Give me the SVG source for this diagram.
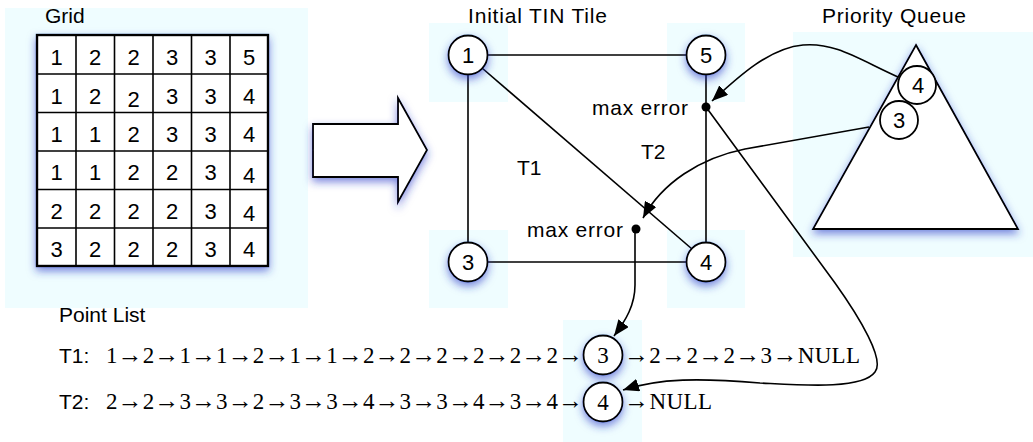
<svg xmlns="http://www.w3.org/2000/svg" width="1033" height="442" viewBox="0 0 1033 442">
<defs>
<style>
.bg{fill:#effdff;stroke:none}
.sans{font-family:"Liberation Sans",Arial,sans-serif;font-size:21px;fill:#000}
.num{font-size:22px}
.serif{font-family:"Liberation Serif","Times New Roman",serif;font-size:23px;fill:#000}
.a{font-size:25px}
.node{fill:#fff;stroke:#000;stroke-width:1.8}
.edge{fill:none;stroke:#000;stroke-width:1.6}
.conn{fill:none;stroke:#000;stroke-width:1.6}
.mid{text-anchor:middle}
</style>
<filter id="sh" x="-30%" y="-30%" width="160%" height="170%">
<feDropShadow dx="0" dy="4" stdDeviation="4" flood-color="#2838c8" flood-opacity="0.6"/>
</filter>
<marker id="ah" markerUnits="userSpaceOnUse" markerWidth="17" markerHeight="13" refX="16" refY="6.5" orient="auto">
<path d="M0,0 L16,6.5 L0,13 z" fill="#000"/>
</marker>
</defs>
<rect width="1033" height="442" fill="#fff"/>
<g id="panels">
<rect class="bg" x="5" y="8" width="303" height="300"/>
<rect class="bg" x="429" y="23" width="79" height="79"/>
<rect class="bg" x="667" y="23" width="78" height="79"/>
<rect class="bg" x="429" y="230" width="79" height="78"/>
<rect class="bg" x="667" y="230" width="78" height="78"/>
<rect class="bg" x="793" y="32" width="240" height="225"/>
<rect class="bg" x="563" y="320" width="79" height="122"/>
</g>
<g id="grid">
<text class="sans" x="45" y="23">Grid</text>
<rect x="37" y="35" width="231" height="231" fill="#fff" stroke="#000" stroke-width="2.4" filter="url(#sh)"/>
<g stroke="#000" stroke-width="1.6">
<line x1="76" y1="35" x2="76" y2="266"/>
<line x1="114.5" y1="35" x2="114.5" y2="266"/>
<line x1="153" y1="35" x2="153" y2="266"/>
<line x1="191.5" y1="35" x2="191.5" y2="266"/>
<line x1="230" y1="35" x2="230" y2="266"/>
<line x1="37" y1="74" x2="268" y2="74"/>
<line x1="37" y1="112.5" x2="268" y2="112.5"/>
<line x1="37" y1="151" x2="268" y2="151"/>
<line x1="37" y1="189.5" x2="268" y2="189.5"/>
<line x1="37" y1="228" x2="268" y2="228"/>
</g>
<g class="sans num mid">
<text x="56.5" y="65">1</text><text x="95" y="65">2</text><text x="133.5" y="65">2</text><text x="172" y="65">3</text><text x="210.5" y="65">3</text><text x="249" y="65">5</text>
<text x="56.5" y="103.5">1</text><text x="95" y="103.5">2</text><text x="133.5" y="106.5">2</text><text x="172" y="103.5">3</text><text x="210.5" y="103.5">3</text><text x="249" y="103.5">4</text>
<text x="56.5" y="142">1</text><text x="95" y="142">1</text><text x="133.5" y="142">2</text><text x="172" y="142">3</text><text x="210.5" y="142">3</text><text x="249" y="142">4</text>
<text x="56.5" y="180">1</text><text x="95" y="180">1</text><text x="133.5" y="180">2</text><text x="172" y="180">2</text><text x="210.5" y="180">3</text><text x="249" y="183">4</text>
<text x="56.5" y="219">2</text><text x="95" y="219">2</text><text x="133.5" y="219">2</text><text x="172" y="219">2</text><text x="210.5" y="219">3</text><text x="249" y="221">4</text>
<text x="56.5" y="257">3</text><text x="95" y="257">2</text><text x="133.5" y="257">2</text><text x="172" y="257">2</text><text x="210.5" y="257">3</text><text x="249" y="257">4</text>
</g>
</g>
<g id="block-arrow">
<path d="M313,124 L398,124 L398,98 L427,150 L398,202 L398,177 L313,177 Z" fill="#fff" stroke="#000" stroke-width="1.8" filter="url(#sh)"/>
</g>
<g id="tin-tile">
<text class="sans" x="468" y="23" textLength="139">Initial TIN Tile</text>
<g class="edge">
<line x1="487" y1="55" x2="687" y2="55"/>
<line x1="468" y1="74" x2="468" y2="243"/>
<line x1="706" y1="74" x2="706" y2="243"/>
<line x1="487" y1="262" x2="687" y2="262"/>
<line x1="482" y1="68" x2="692" y2="249"/>
</g>
<text class="sans" x="517" y="175">T1</text>
<text class="sans" x="641" y="159">T2</text>
<circle cx="706" cy="107" r="4.5" fill="#000"/>
<text class="sans" x="592" y="115" textLength="96">max error</text>
<circle cx="636" cy="229" r="4.5" fill="#000"/>
<text class="sans" x="527" y="237" textLength="96">max error</text>
</g>
<g id="tin-node-1"><circle class="node" cx="468" cy="55" r="19.5" filter="url(#sh)"/><text class="sans num mid" x="468" y="63">1</text></g>
<g id="tin-node-5"><circle class="node" cx="706" cy="55" r="19.5" filter="url(#sh)"/><text class="sans num mid" x="706" y="63">5</text></g>
<g id="tin-node-3"><circle class="node" cx="468" cy="262" r="19.5" filter="url(#sh)"/><text class="sans num mid" x="468" y="270">3</text></g>
<g id="tin-node-4"><circle class="node" cx="706" cy="262" r="19.5" filter="url(#sh)"/><text class="sans num mid" x="706" y="270">4</text></g>
<g id="priority-queue">
<text class="sans" x="822" y="23" textLength="144">Priority Queue</text>
<path d="M916,45 L1018,229 L813,229 Z" fill="#fff" stroke="#000" stroke-width="1.8" filter="url(#sh)"/>
<circle class="node" cx="917" cy="85" r="19"/><text class="sans num mid" x="918" y="93">4</text>
<circle class="node" cx="899" cy="120" r="19"/><text class="sans num mid" x="899" y="128">3</text>
</g>
<g id="point-list">
<text class="sans" x="59" y="322">Point List</text>
<text class="sans" x="59" y="363">T1:</text>
<text class="serif" x="106" y="363" textLength="477" lengthAdjust="spacing">1<tspan class="a">→</tspan>2<tspan class="a">→</tspan>1<tspan class="a">→</tspan>1<tspan class="a">→</tspan>2<tspan class="a">→</tspan>1<tspan class="a">→</tspan>1<tspan class="a">→</tspan>2<tspan class="a">→</tspan>2<tspan class="a">→</tspan>2<tspan class="a">→</tspan>2<tspan class="a">→</tspan>2<tspan class="a">→</tspan>2<tspan class="a">→</tspan></text>
<text class="serif" x="624" y="363" textLength="236" lengthAdjust="spacing"><tspan class="a">→</tspan>2<tspan class="a">→</tspan>2<tspan class="a">→</tspan>2<tspan class="a">→</tspan>3<tspan class="a">→</tspan>NULL</text>
<text class="sans" x="59" y="409">T2:</text>
<text class="serif" x="106" y="409" textLength="477" lengthAdjust="spacing">2<tspan class="a">→</tspan>2<tspan class="a">→</tspan>3<tspan class="a">→</tspan>3<tspan class="a">→</tspan>2<tspan class="a">→</tspan>3<tspan class="a">→</tspan>3<tspan class="a">→</tspan>4<tspan class="a">→</tspan>3<tspan class="a">→</tspan>3<tspan class="a">→</tspan>4<tspan class="a">→</tspan>3<tspan class="a">→</tspan>4<tspan class="a">→</tspan></text>
<text class="serif" x="624" y="409" textLength="88" lengthAdjust="spacing"><tspan class="a">→</tspan>NULL</text>
</g>
<g id="list-node-3"><circle class="node" cx="603" cy="355" r="19.5" filter="url(#sh)"/><text class="serif mid" x="603" y="363">3</text></g>
<g id="list-node-4"><circle class="node" cx="603" cy="402" r="19.5" filter="url(#sh)"/><text class="serif mid" x="603" y="410">4</text></g>
<g id="connectors">
<path class="conn" d="M898,77 C 860,60 835,42 803,45 C 770,48 740,75 712,101" marker-end="url(#ah)"/>
<path class="conn" d="M869,127 L 745,149 C 700,158 662,183 643,218" marker-end="url(#ah)"/>
<path class="conn" d="M706,107 L 835,283 C 860,318 885,360 875,372 C 862,390 800,385 760,383 C 700,378 660,378 623,390" marker-end="url(#ah)"/>
<path class="conn" d="M635,229 L 635,285 C 635,305 626,320 614,336" marker-end="url(#ah)"/>
</g>
</svg>
